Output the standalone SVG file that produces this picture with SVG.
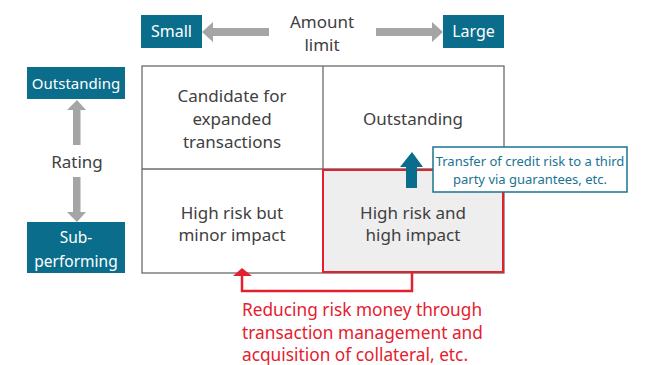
<svg xmlns="http://www.w3.org/2000/svg" width="663" height="365" viewBox="0 0 663 365">
<style>
text{font-family:"Noto Sans","Liberation Sans",sans-serif}
.q{font-size:17px;fill:#404040;text-anchor:middle}
.lbl{font-size:17px;fill:#404040;text-anchor:middle}
.tag{fill:#0a6d8c}
.tt{font-size:16px;fill:#ffffff;text-anchor:middle}
.grey{fill:#a5a5a5}
.red{fill:none;stroke:#e5202e;stroke-width:2.5}
.rt{font-size:17.3px;fill:#e5202e}
.bt{font-size:13px;fill:#1a7391;text-anchor:middle}
</style>
<rect width="663" height="365" fill="#ffffff"/>

<g id="grid">
<rect x="142" y="66" width="362" height="207" fill="#ffffff" stroke="#6b6b6b" stroke-width="1.3"/>
<line x1="323" y1="66" x2="323" y2="273" stroke="#6b6b6b" stroke-width="1.3"/>
<line x1="142" y1="169" x2="504" y2="169" stroke="#6b6b6b" stroke-width="1.3"/>
</g>
<g id="q-high-high">
<rect x="323" y="170" width="180" height="102" fill="#eeeeee" stroke="#e5202e" stroke-width="2"/>
<text class="q" x="413" y="219">High risk and</text>
<text class="q" x="413" y="241">high impact</text>
</g>
<g id="q-candidate">
<text class="q" x="232" y="102">Candidate for</text>
<text class="q" x="232" y="125">expanded</text>
<text class="q" x="232" y="148">transactions</text>
</g>
<g id="q-outstanding">
<text class="q" x="413" y="125">Outstanding</text>
</g>
<g id="q-high-minor">
<text class="q" x="232" y="219">High risk but</text>
<text class="q" x="232" y="241">minor impact</text>
</g>

<g id="small">
<rect class="tag" x="141" y="15" width="61" height="33"/>
<text class="tt" x="171.5" y="37">Small</text>
</g>
<g id="large">
<rect class="tag" x="443" y="15" width="61" height="33"/>
<text class="tt" x="473.5" y="37">Large</text>
</g>
<g id="amount">
<text class="lbl" x="322" y="28">Amount</text>
<text class="lbl" x="322" y="51">limit</text>
</g>
<g id="outstanding-tag">
<rect class="tag" x="27" y="67" width="98" height="32"/>
<text class="tt" x="76" y="89" style="font-size:15px">Outstanding</text>
</g>
<g id="rating">
<text class="lbl" x="77" y="168">Rating</text>
</g>
<g id="subperforming">
<rect class="tag" x="27" y="222" width="98" height="51"/>
<text class="tt" x="76" y="243" style="font-size:15.5px">Sub-</text>
<text class="tt" x="76" y="267" style="font-size:15.5px">performing</text>
</g>
<g id="transfer-note">
<rect x="433" y="147" width="194" height="45" fill="#ffffff" stroke="#1a7391" stroke-width="1.5"/>
<text class="bt" x="530" y="166">Transfer of credit risk to a third</text>
<text class="bt" x="530" y="184">party via guarantees, etc.</text>
</g>
<g id="reducing-note">
<text class="rt" x="242" y="316">Reducing risk money through</text>
<text class="rt" x="242" y="339">transaction management and</text>
<text class="rt" x="242" y="361">acquisition of collateral, etc.</text>
</g>

<g id="connectors">
<polygon class="grey" points="202,32 213,22 213,28 269,28 269,36 213,36 213,42"/>
<polygon class="grey" points="443,32 432,22 432,28 376,28 376,36 432,36 432,42"/>
<polygon class="grey" points="77,100 67,110 73,110 73,145 80.5,145 80.5,110 86,110"/>
<polygon class="grey" points="77,222 67,212 73,212 73,177 80.5,177 80.5,212 86,212"/>
<polygon fill="#0a6d8c" points="412,152 400,167 406,167 406,188 417,188 417,167 423,167"/>
<polyline class="red" points="412,273 412,291 242,291 242,276"/>
<polygon fill="#e5202e" points="242,268 233,276 252,276"/>
</g>
</svg>
